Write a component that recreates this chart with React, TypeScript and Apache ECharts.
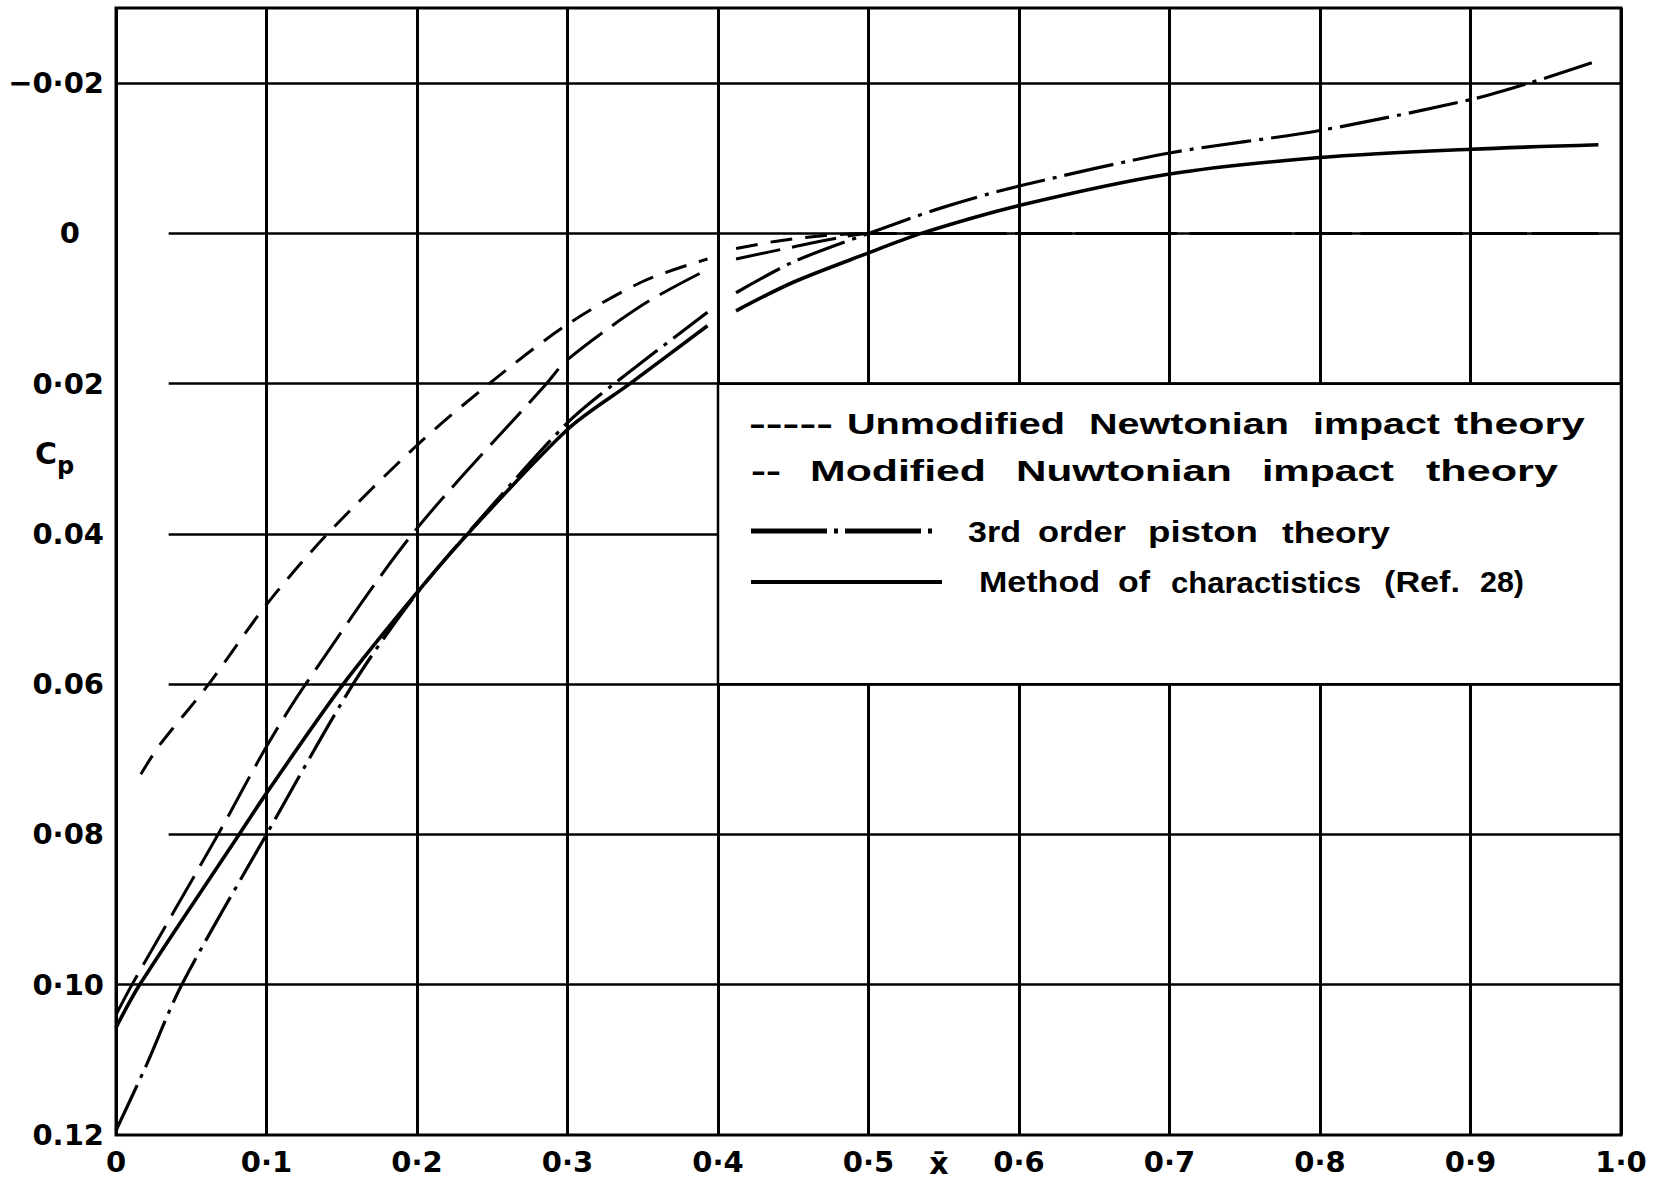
import React, { useEffect, useRef } from "react";
import * as echarts from "echarts";

// ---- axis ticks / labels ----
const xTicks = [0, 0.1, 0.2, 0.3, 0.4, 0.5, 0.6, 0.7, 0.8, 0.9, 1.0];
const xTickLabels = ["0", "0·1", "0·2", "0·3", "0·4", "0·5", "0·6", "0·7", "0·8", "0·9", "1·0"];
const yTicks = [-0.02, 0, 0.02, 0.04, 0.06, 0.08, 0.1, 0.12];
const yTickLabels = ["−0·02", "0", "0·02", "0.04", "0.06", "0·08", "0·10", "0.12"];
// horizontal grid lines (value, x where the line starts)
const hGridValues = [-0.02, 0, 0.02, 0.04, 0.06, 0.08, 0.1];
const hGridStarts = [0, 0.035, 0.035, 0.035, 0.035, 0.035, 0];

// ---- series (x̄ , Cp) ; null = break in the trace ----
const unmodNewtonX = [0.0165, 0.0286, 0.0616, 0.1, 0.1405, 0.2, 0.248, 0.3, 0.35, 0.393, null, 0.412, 0.44, 0.47, 0.5, 0.6, 0.7, 0.8, 0.9, 0.985];
const unmodNewtonY = [0.072, 0.0682, 0.06, 0.0494, 0.04, 0.0282, 0.02, 0.0121, 0.0064, 0.0034, null, 0.002, 0.001, 0.0003, 0, 0, 0, 0, 0, 0];

const modNewtonX = [0, 0.0106, 0.0678, 0.1, 0.126, 0.197, 0.286, 0.3, 0.35, 0.393, null, 0.412, 0.45, 0.48, 0.5, 0.6, 0.7, 0.8, 0.9, 0.985];
const modNewtonY = [0.104, 0.1, 0.08, 0.0683, 0.06, 0.04, 0.02, 0.0168, 0.0095, 0.0048, null, 0.0034, 0.0018, 0.0006, 0, 0, 0, 0, 0, 0];

const pistonX = [0, 0.0195, 0.0437, 0.1, 0.1575, 0.2, 0.25, 0.3, 0.331, 0.393, null, 0.412, 0.45, 0.5, 0.55, 0.6, 0.7, 0.8, 0.9, 0.939, 0.985];
const pistonY = [0.1194, 0.111, 0.1, 0.08, 0.06, 0.0479, 0.0362, 0.0252, 0.02, 0.0105, null, 0.0079, 0.0038, 0, -0.0035, -0.0063, -0.0107, -0.0137, -0.0178, -0.02, -0.023];

const mocX = [0, 0.0157, 0.0818, 0.1, 0.151, 0.2, 0.2337, 0.3, 0.3415, 0.393, null, 0.412, 0.45, 0.5, 0.535, 0.6, 0.7, 0.8, 0.9, 0.985];
const mocY = [0.1057, 0.1, 0.08, 0.0745, 0.06, 0.0478, 0.04, 0.0261, 0.02, 0.0123, null, 0.0103, 0.0065, 0.0026, 0, -0.0037, -0.0079, -0.0101, -0.0112, -0.0118];

// legend box corners in data units
const legendBoxX = [0.4, 1.0];
const legendBoxY = [0.02, 0.06];

// ---- layout / style (pixels) ----
const FONT = '"Liberation Sans", Arial, sans-serif';
const TICKFONT = '"DejaVu Sans", "Liberation Sans", sans-serif';
const legendRows = [
  { y: 424, size: 29, words: [["-----", 749, 833], ["Unmodified", 847, 1065], ["Newtonian", 1089, 1289], ["impact", 1313, 1440], ["theory", 1454, 1585]] },
  { y: 471, size: 29, words: [["--", 751, 781], ["Modified", 810, 986], ["Nuwtonian", 1016, 1232], ["impact", 1262, 1394], ["theory", 1426, 1558]] },
  { y: 532, size: 30, words: [["3rd", 968, 1021], ["order", 1038, 1126], ["piston", 1148, 1258], ["theory", 1282, 1390]] },
  { y: 582, size: 30, words: [["Method", 979, 1100], ["of", 1118, 1150], ["charactistics", 1171, 1361], ["(Ref.", 1384, 1460], ["28)", 1480, 1524]] },
];
const legendSamples = [
  { y: 531, x1: 751, x2: 937, width: 5, dash: [76, 7, 4, 7] },
  { y: 582, x1: 751, x2: 942, width: 4, dash: null },
];

function toData(xs: (number | null)[], ys: (number | null)[]) {
  return xs.map((x, i) => (x === null || ys[i] === null ? ["-", "-"] : [x, ys[i]]));
}

export default function App() {
  const ref = useRef<HTMLDivElement>(null);
  useEffect(() => {
    document.body.style.margin = "0";
    const chart = echarts.init(ref.current!, null, { renderer: "svg" });
    const curve = (name: string, xs: any[], ys: any[], width: number, type: any, extra: any = {}) => ({
      name,
      type: "line",
      data: toData(xs, ys),
      showSymbol: false,
      symbol: "none",
      smooth: 0.3,
      connectNulls: false,
      silent: true,
      z: 5,
      lineStyle: { color: "#000", width, type, cap: "butt" },
      ...extra,
    });
    const option: any = {
      animation: false,
      backgroundColor: "#fff",
      grid: { left: 116, right: 33, top: 8, bottom: 53, show: true, borderColor: "#000", borderWidth: 3, backgroundColor: "transparent" },
      xAxis: {
        type: "value",
        min: 0,
        max: 1,
        interval: 0.1,
        axisLine: { show: false },
        axisTick: { show: false },
        splitLine: { show: true, lineStyle: { color: "#000", width: 3 } },
        axisLabel: {
          margin: 12,
          color: "#000",
          fontFamily: TICKFONT,
          fontWeight: "bold",
          fontSize: 29,
          formatter: (v: number) => {
            const i = xTicks.findIndex((t) => Math.abs(t - v) < 1e-6);
            return i < 0 ? "" : xTickLabels[i];
          },
        },
      },
      yAxis: {
        type: "value",
        inverse: true,
        min: -0.03,
        max: 0.12,
        interval: 0.01,
        axisLine: { show: false },
        axisTick: { show: false },
        splitLine: { show: false },
        axisLabel: {
          margin: 12,
          color: "#000",
          fontFamily: TICKFONT,
          fontWeight: "bold",
          fontSize: 29,
          formatter: (v: number) => {
            const i = yTicks.findIndex((t) => Math.abs(t - v) < 1e-6);
            if (i < 0) return "";
            return yTicks[i] === 0 ? "{z|" + yTickLabels[i] + "}" : yTickLabels[i];
          },
          rich: { z: { padding: [0, 24, 0, 0], fontSize: 29, fontWeight: "bold", fontFamily: TICKFONT, color: "#000" } },
        },
      },
      series: [
        curve("Unmodified Newtonian impact theory", unmodNewtonX, unmodNewtonY, 3, [22, 13], {
          markLine: {
            silent: true,
            symbol: ["none", "none"],
            label: { show: false },
            z: 1,
            lineStyle: { color: "#000", width: 2.5, type: "solid" },
            data: hGridValues.map((v, i) => [{ coord: [hGridStarts[i], v] }, { coord: [1, v] }]),
          },
        }),
        curve("Modified Nuwtonian impact theory", modNewtonX, modNewtonY, 3, [45, 12]),
        curve("3rd order piston theory", pistonX, pistonY, 3.2, [50, 8, 4, 8]),
        curve("Method of charactistics (Ref. 28)", mocX, mocY, 3.6, "solid"),
      ],
    };
    chart.setOption(option);

    const p0 = chart.convertToPixel({ gridIndex: 0 }, [legendBoxX[0], legendBoxY[0]]) as number[];
    const p1 = chart.convertToPixel({ gridIndex: 0 }, [legendBoxX[1], legendBoxY[1]]) as number[];
    const ctx = document.createElement("canvas").getContext("2d")!;
    const graphics: any[] = [
      {
        type: "rect",
        z: 100,
        silent: true,
        shape: { x: p0[0], y: p0[1], width: p1[0] - p0[0], height: p1[1] - p0[1] },
        style: { fill: "#fff", stroke: "#000", lineWidth: 2.5 },
      },
    ];
    legendRows.forEach((row) => {
      ctx.font = `bold ${row.size}px ${FONT}`;
      row.words.forEach((w: any) => {
        const natural = ctx.measureText(w[0]).width;
        const s = natural > 0 ? (w[2] - w[1]) / natural : 1;
        graphics.push({
          type: "text",
          z: 101,
          silent: true,
          x: w[1],
          y: row.y,
          scaleX: s,
          style: { text: w[0], fill: "#000", fontSize: row.size, fontWeight: "bold", fontFamily: FONT, align: "left", verticalAlign: "middle" },
        });
      });
    });
    legendSamples.forEach((ls) => {
      graphics.push({
        type: "line",
        z: 101,
        silent: true,
        shape: { x1: ls.x1, y1: ls.y, x2: ls.x2, y2: ls.y },
        style: { stroke: "#000", lineWidth: ls.width, lineDash: ls.dash || undefined },
      });
    });
    graphics.push({
      type: "text",
      z: 101,
      silent: true,
      x: 939,
      y: 1163,
      style: { text: "x̄", fill: "#000", fontSize: 30, fontWeight: "bold", fontFamily: TICKFONT, align: "center", verticalAlign: "middle" },
    });
    graphics.push({
      type: "text",
      z: 101,
      silent: true,
      x: 35,
      y: 458,
      style: {
        text: "{c|C}{p|p}",
        fill: "#000",
        align: "left",
        verticalAlign: "middle",
        rich: {
          c: { fontSize: 30, fontWeight: "bold", fontFamily: TICKFONT, fill: "#000", padding: [0, 0, 9, 0], verticalAlign: "bottom" },
          p: { fontSize: 24, fontWeight: "bold", fontFamily: TICKFONT, fill: "#000", verticalAlign: "bottom" },
        },
      },
    });
    chart.setOption({ graphic: graphics });
    return () => chart.dispose();
  }, []);
  return <div ref={ref} style={{ width: 1654, height: 1188, background: "#fff" }} />;
}
